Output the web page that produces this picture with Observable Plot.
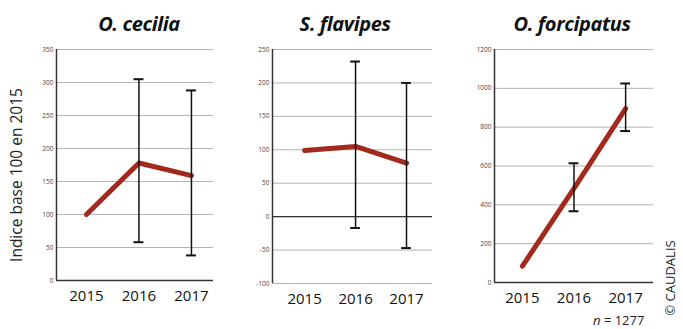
<!DOCTYPE html>
<html>
<head>
<meta charset="utf-8">
<script src="https://cdn.jsdelivr.net/npm/d3@7"></script>
<script src="https://cdn.jsdelivr.net/npm/@observablehq/plot@0.6"></script>
<style>
  html, body { margin: 0; padding: 0; background: #fff; }
  #wrap { position: relative; width: 683px; height: 329px; overflow: hidden; font-family: "Open Sans", sans-serif; }
  .panel { position: absolute; top: 0; }
  .title { position: absolute; top: 10px; transform: translateX(-50%); font-weight: 700; font-style: italic; font-size: 20px; line-height: normal; color: #111; white-space: nowrap; letter-spacing: -0.4px; }
  .ylab { position: absolute; left: 16px; top: 175px; transform: translate(-50%, -50%) rotate(-90deg); font-size: 15.5px; color: #222; white-space: nowrap; }
  .copy { position: absolute; left: 670px; top: 278px; transform: translate(-50%, -50%) rotate(-90deg); font-size: 13px; color: #222; white-space: nowrap; }
  .n { position: absolute; left: 593px; top: 311px; font-size: 13px; color: #222; white-space: nowrap; }
</style>
</head>
<body>
<div id="wrap">
  <div class="title" style="left:139px">O. cecilia</div>
  <div class="title" style="left:345px">S. flavipes</div>
  <div class="title" style="left:572px">O. forcipatus</div>
  <div class="ylab">Indice base 100 en 2015</div>
  <div class="copy">© CAUDALIS</div>
  <div class="n"><i>n</i> = 1277</div>
</div>
<script>
const years = [2015, 2016, 2017];

const ceciliaMean = [100, 178, 159];
const ceciliaLow  = [null, 58, 38];
const ceciliaHigh = [null, 305, 288];

const flavipesMean = [99, 105, 80];
const flavipesLow  = [null, -17, -47];
const flavipesHigh = [null, 232, 200];

const forcipatusMean = [84, 485, 895];
const forcipatusLow  = [null, 367, 780];
const forcipatusHigh = [null, 614, 1025];

const ceciliaTicks = [0, 50, 100, 150, 200, 250, 300, 350];
const flavipesTicks = [-100, -50, 0, 50, 100, 150, 200, 250];
const forcipatusTicks = [0, 200, 400, 600, 800, 1000, 1200];

function rows(mean, low, high) {
  return years.map((y, i) => ({year: y, mean: mean[i], low: low[i], high: high[i]}));
}

function panel({left, width, mL, mR, mB, xDomain, yDomain, ticks, mean, low, high}) {
  const data = rows(mean, low, high);
  const bars = data.filter(d => d.low != null);
  const cap = 0.095;
  const svg = Plot.plot({
    width, height: 329,
    marginLeft: mL, marginRight: mR, marginTop: 49, marginBottom: mB,
    style: {fontFamily: "'Open Sans', sans-serif", background: "transparent"},
    x: {type: "linear", domain: xDomain, axis: null, label: null},
    y: {domain: yDomain, axis: null, label: null},
    marks: [
      Plot.gridY(ticks, {stroke: "#b4b4b4", strokeOpacity: 1, strokeWidth: 1}),
      Plot.ruleY([0], {stroke: "#333", strokeWidth: 1.3}),
      Plot.ruleX([xDomain[0]], {stroke: "#333", strokeWidth: 1.5}),
      Plot.axisY(ticks, {tickSize: 0, tickPadding: 3, fontSize: 6.5, fill: "#444", label: null, tickFormat: d => String(d)}),
      Plot.axisX(years, {tickSize: 0, tickPadding: 10, fontSize: 15, fill: "#111", label: null, tickFormat: d => String(d)}),
      Plot.line(data, {x: "year", y: "mean", stroke: "#a3291c", strokeWidth: 5, strokeLinecap: "round", strokeLinejoin: "round"}),
      Plot.ruleX(bars, {x: "year", y1: "low", y2: "high", stroke: "#111", strokeWidth: 1.5}),
      Plot.ruleY(bars, {y: "high", x1: d => d.year - cap, x2: d => d.year + cap, stroke: "#111", strokeWidth: 2}),
      Plot.ruleY(bars, {y: "low", x1: d => d.year - cap, x2: d => d.year + cap, stroke: "#111", strokeWidth: 2})
    ]
  });
  svg.classList.add("panel");
  svg.style.left = left + "px";
  document.getElementById("wrap").appendChild(svg);
}

panel({left: 0, width: 230, mL: 56, mR: 17, mB: 49,
  xDomain: [2014.43, 2017.42], yDomain: [0, 350], ticks: ceciliaTicks,
  mean: ceciliaMean, low: ceciliaLow, high: ceciliaHigh});

panel({left: 230, width: 215, mL: 42, mR: 13, mB: 46,
  xDomain: [2014.37, 2017.51], yDomain: [-100, 250], ticks: flavipesTicks,
  mean: flavipesMean, low: flavipesLow, high: flavipesHigh});

panel({left: 445, width: 220, mL: 49, mR: 12, mB: 47,
  xDomain: [2014.46, 2017.54], yDomain: [0, 1200], ticks: forcipatusTicks,
  mean: forcipatusMean, low: forcipatusLow, high: forcipatusHigh});
</script>
</body>
</html>
